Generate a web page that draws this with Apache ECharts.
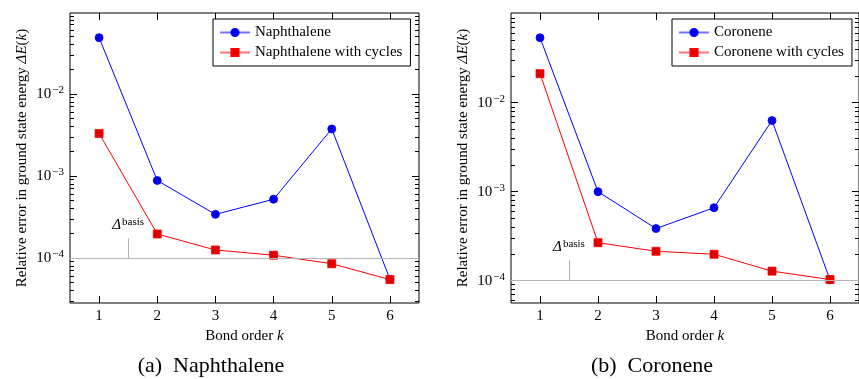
<!DOCTYPE html>
<html>
<head>
<meta charset="utf-8">
<script src="https://cdn.jsdelivr.net/npm/echarts@6/dist/echarts.min.js"></script>
<style>
  body { margin: 0; background: #fff; }
  #chart { width: 859px; height: 379px; }
</style>
</head>
<body>
<div id="chart"></div>
<script>
// bond order k
const bondOrder = [1, 2, 3, 4, 5, 6];
// relative error
const naphthalene = [0.0487, 8.8e-4, 3.4e-4, 5.2e-4, 3.75e-3, 5.5e-5];
const naphthaleneCycles = [3.3e-3, 1.96e-4, 1.25e-4, 1.08e-4, 8.5e-5, 5.45e-5];
const coronene = [0.0537, 1.0e-3, 3.85e-4, 6.6e-4, 6.3e-3, 1.02e-4];
const coroneneCycles = [0.0212, 2.67e-4, 2.14e-4, 1.98e-4, 1.28e-4, 1.03e-4];
// basis set error line + marker
const basisError = 1e-4;
const basisMarkX = 1.5;
const basisMarkTop = [1.74e-4, 1.7e-4];
// ticks
const xRange = [0.5, 6.5];
const xTicks = [1, 2, 3, 4, 5, 6];
const yMajor = [1e-4, 1e-3, 1e-2];
const yMinor = [3e-5, 4e-5, 5e-5, 6e-5, 7e-5, 8e-5, 9e-5,
  2e-4, 3e-4, 4e-4, 5e-4, 6e-4, 7e-4, 8e-4, 9e-4,
  2e-3, 3e-3, 4e-3, 5e-3, 6e-3, 7e-3, 8e-3, 9e-3,
  2e-2, 3e-2, 4e-2, 5e-2, 6e-2, 7e-2, 8e-2, 9e-2];
const yRange = [[2.82e-5, 0.0973], [5.61e-5, 0.1018]];

const FONT = 'Liberation Serif';
const BLUE = '#0000ff';
const RED = '#ff0000';
const GRAY = '#b4b4b4';

const chart = echarts.init(document.getElementById('chart'));

function powLabel(v) {
  const e = Math.round(Math.log10(v));
  return '10{sup|\u2212' + (-e) + '}';
}

function xAxes(g) {
  return [
    {
      gridIndex: g, type: 'value', position: 'bottom', min: xRange[0], max: xRange[1],
      axisLine: { show: false }, splitLine: { show: false },
      axisTick: { inside: true, length: 7, customValues: xTicks, lineStyle: { color: '#000' } },
      axisLabel: { customValues: xTicks, margin: 6, color: '#000', fontFamily: FONT, fontSize: 15 },
      name: 'Bond order {i|k}', nameLocation: 'middle', nameGap: 25,
      nameTextStyle: { color: '#000', fontFamily: FONT, fontSize: 15,
        rich: { i: { fontStyle: 'italic', fontFamily: FONT, fontSize: 15 } } }
    },
    {
      gridIndex: g, type: 'value', position: 'top', min: xRange[0], max: xRange[1],
      axisLine: { show: false }, splitLine: { show: false },
      axisTick: { inside: true, length: 7, customValues: xTicks, lineStyle: { color: '#000' } },
      axisLabel: { show: false }
    }
  ];
}

function yAxes(g) {
  const base = {
    gridIndex: g, type: 'log', min: yRange[g][0], max: yRange[g][1],
    axisLine: { show: false }, splitLine: { show: false }
  };
  const major = { inside: true, length: 7, customValues: yMajor, lineStyle: { color: '#000' } };
  const minor = { inside: true, length: 4, customValues: yMinor, lineStyle: { color: '#000' } };
  return [
    Object.assign({}, base, {
      position: 'left', axisTick: major,
      axisLabel: {
        customValues: yMajor, formatter: powLabel, margin: 6, color: '#000',
        fontFamily: FONT, fontSize: 15,
        rich: { sup: { fontSize: 11, fontFamily: FONT, color: '#000', verticalAlign: 'bottom', padding: [0, 0, 8, 1] } }
      },
      name: 'Relative error in ground state energy {i|\u0394E}({i|k})',
      nameLocation: 'middle', nameGap: 40,
      nameTextStyle: { color: '#000', fontFamily: FONT, fontSize: 15,
        rich: { i: { fontStyle: 'italic', fontFamily: FONT, fontSize: 15 } } }
    }),
    Object.assign({}, base, { position: 'left', axisTick: minor, axisLabel: { show: false } }),
    Object.assign({}, base, { position: 'right', axisTick: major, axisLabel: { show: false } }),
    Object.assign({}, base, { position: 'right', axisTick: minor, axisLabel: { show: false } })
  ];
}

function pairs(vals) {
  return bondOrder.map((k, i) => [k, vals[i]]);
}

function basisMarks(g) {
  return {
    silent: true, symbol: 'none', animation: false,
    lineStyle: { color: GRAY, width: 1, type: 'solid' },
    label: { show: false },
    data: [
      [
        { coord: [xRange[0], basisError] },
        { coord: [xRange[1], basisError] }
      ],
      [
        { coord: [basisMarkX, basisError] },
        {
          coord: [basisMarkX, basisMarkTop[g]],
          label: {
            show: true, position: 'end', distance: 4,
            formatter: '{d|\u0394}{s|basis}',
            rich: {
              d: { fontFamily: FONT, fontStyle: 'italic', fontSize: 15, color: '#000' },
              s: { fontFamily: FONT, fontSize: 11, color: '#000', verticalAlign: 'bottom', padding: [0, 0, 7, 1] }
            }
          }
        }
      ]
    ]
  };
}

function lineSeries(name, vals, g, color, symbol, fill, mark) {
  const s = {
    name: name, type: 'line', xAxisIndex: g * 2, yAxisIndex: g * 4,
    data: pairs(vals), symbol: symbol, symbolSize: 8,
    lineStyle: { color: color, width: 1 },
    itemStyle: { color: fill, borderColor: color, borderWidth: 0.8, opacity: 1 },
    emphasis: { disabled: true }, animation: false, z: symbol === 'rect' ? 3 : 2
  };
  if (mark) s.markLine = basisMarks(g);
  return s;
}

function legend(names, left) {
  return {
    orient: 'vertical', left: left, top: 19,
    data: names, selectedMode: false,
    backgroundColor: '#fff', borderColor: '#000', borderWidth: 1, borderRadius: 0,
    padding: [6, 8, 6, 6], itemWidth: 30, itemHeight: 9, itemGap: 5,
    lineStyle: { opacity: 0.55 },
    textStyle: { fontFamily: FONT, fontSize: 15, color: '#000', lineHeight: 15 }
  };
}

chart.setOption({
  backgroundColor: '#fff',
  animation: false,
  grid: [
    { left: 70, top: 13, width: 349, height: 290, show: true, borderColor: '#000', borderWidth: 1, backgroundColor: 'transparent' },
    { left: 511, top: 13, width: 350, height: 290, show: true, borderColor: '#000', borderWidth: 1, backgroundColor: 'transparent' }
  ],
  xAxis: xAxes(0).concat(xAxes(1)),
  yAxis: yAxes(0).concat(yAxes(1)),
  legend: [
    legend(['Naphthalene', 'Naphthalene with cycles'], 213),
    legend(['Coronene', 'Coronene with cycles'], 672)
  ],
  series: [
    lineSeries('Naphthalene', naphthalene, 0, BLUE, 'circle', '#0000e6', true),
    lineSeries('Naphthalene with cycles', naphthaleneCycles, 0, RED, 'rect', '#dd0000', false),
    lineSeries('Coronene', coronene, 1, BLUE, 'circle', '#0000e6', true),
    lineSeries('Coronene with cycles', coroneneCycles, 1, RED, 'rect', '#dd0000', false)
  ],
  graphic: [
    { type: 'text', x: 211, y: 366, style: { text: '(a)  Naphthalene', font: '22px "Liberation Serif"', fill: '#000', align: 'center', verticalAlign: 'middle' } },
    { type: 'text', x: 652, y: 366, style: { text: '(b)  Coronene', font: '22px "Liberation Serif"', fill: '#000', align: 'center', verticalAlign: 'middle' } }
  ]
});
</script>
</body>
</html>
